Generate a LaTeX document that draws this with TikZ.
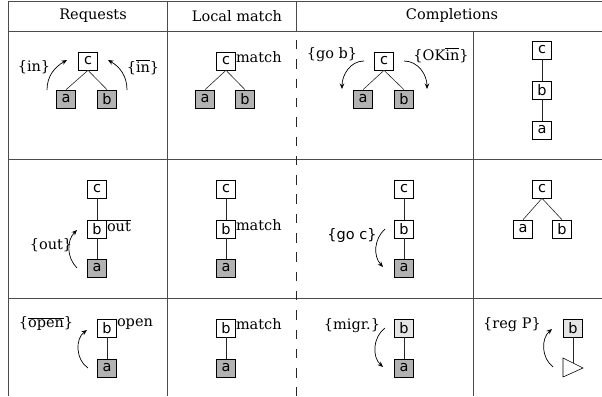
\documentclass[tikz,border=0pt]{standalone}
\usepackage{fontspec}
\setmainfont{DejaVu Serif}
\setsansfont{DejaVu Sans}
\usetikzlibrary{arrows.meta}
\begin{document}
\begin{tikzpicture}[x=1pt,y=1pt,
  grid/.style={draw=black!70,line width=0.9pt},
  dgrid/.style={draw=black!85,line width=0.7pt,dash pattern=on 9.5pt off 9.8pt},
  tn/.style={draw=black,line width=0.6pt,fill=white,minimum width=19pt,minimum height=18pt,inner sep=0pt,font=\sffamily\fontsize{14.5}{14.5}\selectfont},
  dk/.style={tn,fill=black!30},
  lt/.style={tn,fill=black!10},
  ed/.style={draw=black!85,line width=0.6pt},
  ann/.style={draw=black,line width=0.7pt,-{Stealth[length=5.5pt,width=4.5pt]}},
  lab/.style={font=\fontsize{14.5}{14.5}\selectfont,inner sep=0pt},
  hd/.style={font=\fontsize{14.5}{14.5}\selectfont,inner sep=0pt},
  tag/.style={font=\fontsize{14.5}{14.5}\selectfont,inner sep=0pt,anchor=north west}
]
\useasboundingbox (0,0) rectangle (602,-396);
% table grid
\draw[grid] (8,-1) -- (602,-1);
\draw[grid] (8,-31) -- (602,-31);
\draw[grid] (8,-159) -- (602,-159);
\draw[grid] (8,-298) -- (602,-298);
\draw[grid] (8,-1) -- (8,-396);
\draw[grid] (167,-1) -- (167,-396);
\draw[grid] (296,-1) -- (296,-31);
\draw[dgrid] (296,-40) -- (296,-396);
\draw[grid] (473,-31) -- (473,-396);
% headers
\node[hd] (h1) at (93,-16) {Requests};
\node[hd] (h2) at (237,-16) {Local match};
\node[hd] (h3) at (452,-16) {Completions};

% ---------- row 1 ----------
% requests
\node[tn] (r1c) at (88,-61) {c};
\node[dk] (r1a) at (66,-99) {a};
\node[dk] (r1b) at (107,-99) {b};
\draw[ed] (r1c.south) -- (r1a.north);
\draw[ed] (r1c.south) -- (r1b.north);
\coordinate (r1s1) at (47,-90); \coordinate (r1e1) at (67,-60);
\coordinate (r1s2) at (127,-90); \coordinate (r1e2) at (108,-60);
\draw[ann] (r1s1) to[out=90,in=210] (r1e1);
\draw[ann] (r1s2) to[out=90,in=-30] (r1e2);
\node[lab] (r1l1) at (34,-67) {\{in\}};
\node[lab] (r1l2) at (143,-67) {\{$\overline{\hbox{in}}$\}};
% local match
\node[tn] (m1c) at (226,-61) {c};
\node[dk] (m1a) at (205,-99) {a};
\node[dk] (m1b) at (245,-99) {b};
\draw[ed] (m1c.south) -- (m1a.north);
\draw[ed] (m1c.south) -- (m1b.north);
\node[tag] (m1t) at (m1c.north east) {match};
% completions 1
\node[tn] (k1c) at (384,-61) {c};
\node[dk] (k1a) at (363,-99) {a};
\node[dk] (k1b) at (404,-99) {b};
\draw[ed] (k1c.south) -- (k1a.north);
\draw[ed] (k1c.south) -- (k1b.north);
\coordinate (k1s1) at (364,-61); \coordinate (k1e1) at (342,-89);
\coordinate (k1s2) at (404,-61); \coordinate (k1e2) at (427,-89);
\draw[ann] (k1s1) to[out=180,in=90] (k1e1);
\draw[ann] (k1s2) to[out=0,in=90] (k1e2);
\node[lab] (k1l1) at (332,-55) {\{go b\}};
\node[lab] (k1l2) at (441,-55) {\{OK$\overline{\hbox{in}}$\}};
% completions 2
\node[tn] (q1c) at (542,-50) {c};
\node[tn] (q1b) at (542,-90) {b};
\node[tn] (q1a) at (542,-130) {a};
\draw[ed] (q1c) -- (q1b);
\draw[ed] (q1b) -- (q1a);

% ---------- row 2 ----------
\node[tn] (r2c) at (97,-189) {c};
\node[tn] (r2b) at (97,-229) {b};
\node[dk] (r2a) at (97,-268) {a};
\draw[ed] (r2c) -- (r2b);
\draw[ed] (r2b) -- (r2a);
\node[tag] (r2t) at (r2b.north east) {$\overline{\hbox{out}}$};
\coordinate (r2s) at (77,-268); \coordinate (r2e) at (77,-230);
\draw[ann] (r2s) to[bend left=45] (r2e);
\node[lab] (r2l) at (51,-245) {\{out\}};
% local match
\node[tn] (m2c) at (226,-189) {c};
\node[tn] (m2b) at (226,-229) {b};
\node[dk] (m2a) at (226,-268) {a};
\draw[ed] (m2c) -- (m2b);
\draw[ed] (m2b) -- (m2a);
\node[tag] (m2t) at (m2b.north east) {match};
% completions 1
\node[tn] (k2c) at (404,-189) {c};
\node[tn] (k2b) at (404,-229) {b};
\node[dk] (k2a) at (404,-268) {a};
\draw[ed] (k2c) -- (k2b);
\draw[ed] (k2b) -- (k2a);
\coordinate (k2s) at (385,-229); \coordinate (k2e) at (383,-267);
\draw[ann] (k2s) to[bend right=45] (k2e);
\node[lab,font=\sffamily\fontsize{14.5}{14.5}\selectfont] (k2l) at (352,-235) {\{go c\}};
% completions 2
\node[tn] (q2c) at (542,-189) {c};
\node[tn] (q2a) at (523,-229) {a};
\node[tn] (q2b) at (562,-229) {b};
\draw[ed] (q2c.south) -- (q2a.north);
\draw[ed] (q2c.south) -- (q2b.north);

% ---------- row 3 ----------
\node[tn] (r3b) at (107,-328) {b};
\node[dk] (r3a) at (107,-368) {a};
\draw[ed] (r3b) -- (r3a);
\node[tag] (r3t) at (r3b.north east) {open};
\coordinate (r3s) at (88,-368); \coordinate (r3e) at (87,-330);
\draw[ann] (r3s) to[bend left=55] (r3e);
\node[lab] (r3l) at (46,-323) {\{$\overline{\hbox{open}}$\}};
% local match
\node[tn] (m3b) at (226,-328) {b};
\node[dk] (m3a) at (226,-368) {a};
\draw[ed] (m3b) -- (m3a);
\node[tag] (m3t) at (m3b.north east) {match};
% completions 1
\node[lt] (k3b) at (404,-328) {b};
\node[dk] (k3a) at (404,-368) {a};
\draw[ed] (k3b) -- (k3a);
\coordinate (k3s) at (385,-328); \coordinate (k3e) at (383,-367);
\draw[ann] (k3s) to[bend right=50] (k3e);
\node[lab] (k3l) at (352,-326) {\{migr.\}};
% completions 2
\node[lt] (q3b) at (573,-328) {b};
\draw[line width=0.6pt,fill=white] (563,-358) -- (583,-368) -- (563,-377) -- cycle;
\coordinate (q3t) at (573,-363);
\draw[ed] (q3b) -- (q3t);
\coordinate (q3s) at (553,-367); \coordinate (q3e) at (552,-329);
\draw[ann] (q3s) to[bend left=50] (q3e);
\node[lab] (q3l) at (512,-325) {\{reg P\}};
\end{tikzpicture}
\end{document}
